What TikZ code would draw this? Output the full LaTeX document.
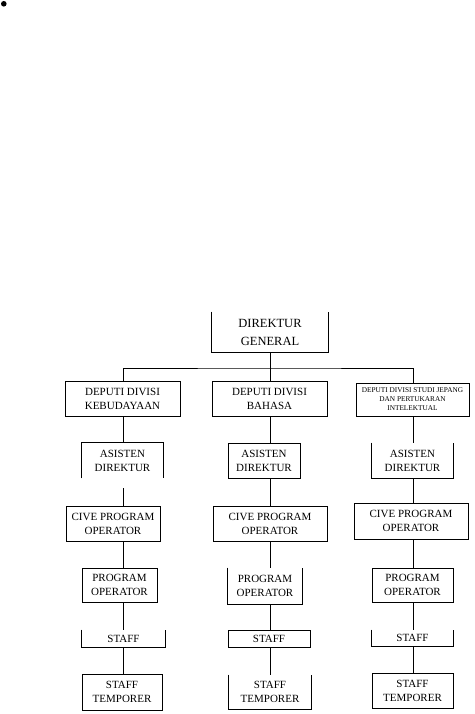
\documentclass[tikz,border=0pt]{standalone}
\usepackage{fontspec}
\setmainfont{Liberation Serif}
\usetikzlibrary{calc}
\newcommand\otbox[1]{\draw[ln] (#1.north west) -- (#1.south west) -- (#1.south east) -- (#1.north east);}
\newcommand\obbox[1]{\draw[ln] (#1.south west) -- (#1.north west) -- (#1.north east) -- (#1.south east);}
\begin{document}
\begin{tikzpicture}[x=1pt,y=-1pt,
  ln/.style={line width=0.9pt, black},
  box/.style={inner sep=0pt, align=center, text=black, font=\fontsize{11}{14}\selectfont, line width=0.9pt},
  fb/.style={box, draw=black},
  wh/.style 2 args={minimum width=#1pt, minimum height=#2pt}]
\useasboundingbox (0,0) rectangle (474,714);

\node[circle, fill=black, inner sep=0pt, minimum size=5.6pt] (bullet) at (3.8,3.8) {};

\coordinate (cl) at (123,0);
\coordinate (cm) at (270.5,0);
\coordinate (cr) at (413,0);
\coordinate (bus) at (270.5,368);

% top
\node[box, wh={116}{40}, font=\fontsize{12.5}{18}\selectfont] (dg) at (270,332) {DIREKTUR\\GENERAL};
\otbox{dg}

% row 1
\node[fb, wh={115}{35}] (l1) at (122.5,398.5) {DEPUTI DIVISI\\KEBUDAYAAN};
\node[fb, wh={115}{35}] (m1) at (269.5,398.5) {DEPUTI DIVISI\\BAHASA};
\node[fb, wh={113}{33}, font=\fontsize{7.3}{9}\selectfont] (r1) at (412.5,399.5) {DEPUTI DIVISI STUDI JEPANG\\DAN PERTUKARAN\\INTELEKTUAL};

% row 2
\node[box, wh={81}{35}] (l2) at (122.5,460.5) {ASISTEN\\DIREKTUR};
\obbox{l2}
\node[fb, wh={72}{35}] (m2) at (264,460.5) {ASISTEN\\DIREKTUR};
\node[box, wh={81}{35}] (r2) at (412.5,460.5) {ASISTEN\\DIREKTUR};
\otbox{r2}

% row 3
\node[fb, wh={94}{35}] (l3) at (113,523.5) {CIVE PROGRAM\\OPERATOR};
\node[fb, wh={114}{35}] (m3) at (270,523.5) {CIVE PROGRAM\\OPERATOR};
\node[fb, wh={114}{36}] (r3) at (411,521) {CIVE PROGRAM\\OPERATOR};

% row 4
\node[fb, wh={75}{34}] (l4) at (119.5,585) {PROGRAM\\OPERATOR};
\node[box, wh={74}{36}] (m4) at (265,586) {PROGRAM\\OPERATOR};
\otbox{m4}
\node[fb, wh={81}{34}] (r4) at (412.5,585) {PROGRAM\\OPERATOR};

% row 5
\node[box, wh={83}{17}] (l5) at (123.5,638.5) {STAFF};
\otbox{l5}
\node[fb, wh={82}{17}] (m5) at (269,638.5) {STAFF};
\node[box, wh={81}{16}] (r5) at (412.5,638) {STAFF};
\otbox{r5}

% row 6
\node[fb, wh={80}{36}] (l6) at (122,692) {STAFF\\TEMPORER};
\node[box, wh={82}{34}] (m6) at (270,692) {STAFF\\TEMPORER};
\otbox{m6}
\node[fb, wh={81}{35}] (r6) at (412.5,690.5) {STAFF\\TEMPORER};

% connectors
\draw[ln] (dg.south -| cm) -- (m1.north -| cm);
\draw[ln] (l1.north -| cl) |- (bus) -| (r1.north -| cr);

\draw[ln] (l1.south -| cl) -- (l2.north -| cl);
\draw[ln] (m1.south -| cm) -- (m2.north -| cm);
\draw[ln] (r1.south -| cr) -- (r2.north -| cr);

\draw[ln] ($(l2.south -| cl)+(0,10)$) -- (l3.north -| cl);
\draw[ln] (m2.south -| cm) -- (m3.north -| cm);
\draw[ln] (r2.south -| cr) -- (r3.north -| cr);

\draw[ln] (l3.south -| cl) -- (l4.north -| cl);
\draw[ln] (m3.south -| cm) -- (m4.north -| cm);
\draw[ln] (r3.south -| cr) -- (r4.north -| cr);

\draw[ln] (l4.south -| cl) -- (l5.north -| cl);
\draw[ln] (m4.south -| cm) -- (m5.north -| cm);
\draw[ln] (r4.south -| cr) -- (r5.north -| cr);

\draw[ln] (l5.south -| cl) -- (l6.north -| cl);
\draw[ln] (m5.south -| cm) -- (m6.north -| cm);
\draw[ln] (r5.south -| cr) -- (r6.north -| cr);
\end{tikzpicture}
\end{document}
